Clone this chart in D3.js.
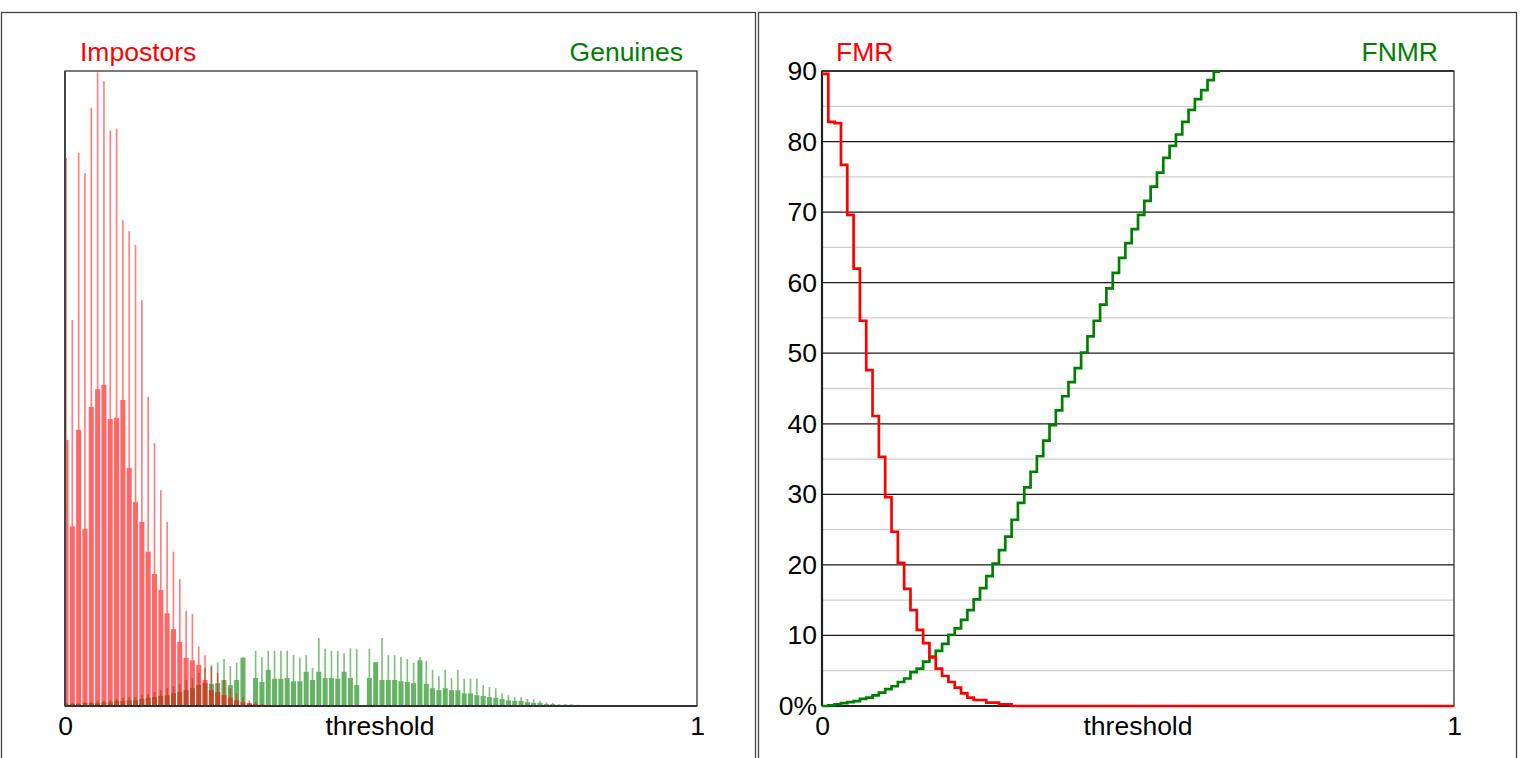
<!DOCTYPE html>
<html><head><meta charset="utf-8">
<script src="https://cdn.jsdelivr.net/npm/d3@7"></script>
<style>
html,body{margin:0;padding:0;background:#fff;}
svg{display:block;font-family:"Liberation Sans",Arial,sans-serif;}
</style></head>
<body>
<svg id="chart" width="1520" height="758"></svg>
<script>
// ---------- DATA ----------
const binWidth = 0.01;           // score bin width (threshold step)
// Impostor histogram, per 0.01 bin: tall thin peak and wide body (relative frequency, 0-100)
const impostorPeak = [86.3,60.8,87.1,83.9,94.2,99.8,98.4,90.6,90.9,76.5,
  74.8,72.6,63.9,48.7,41.4,34.0,29.0,24.3,20.0,15.0,
  14.5,9.4,8.0,6.1,5.2,4.1,2.8,2.0,1.4,0.9,
  0.6,0.3];
const impostorBody = [41.9,28.3,43.5,27.9,47.1,49.9,50.6,45.2,45.4,48.2,
  37.5,32.1,29.0,24.3,20.8,18.3,14.6,12.1,10.1,7.6,
  7.2,6.5,4.1,2.5,2.2,1.7,1.3,0.9,0.6,0.5,
  0.3,0.2];
// Genuine histogram
const genuinePeak = [0.5,0.5,0.5,0.6,0.6,0.8,0.8,0.9,1.1,1.3,
  1.4,1.4,1.7,1.9,2.2,2.5,2.8,3.1,3.5,4.1,
  4.4,5.2,6.0,6.5,6.9,7.4,6.3,6.8,7.7,0.5,
  8.7,7.7,8.7,8.7,8.7,8.7,8.0,7.6,8.0,6.0,
  10.7,9.0,8.7,8.7,8.3,9.1,9.0,0,9.0,6.6,
  10.7,8.0,8.0,7.7,7.4,6.8,7.7,7.1,5.7,4.7,
  5.7,4.4,5.7,4.3,4.3,4.3,3.3,3.0,2.8,2.0,
  1.7,1.4,1.4,1.1,1.1,0.8,0.6,0.5,0.3,0.3,
  0.3,0.2];
const genuineBody = [0.3,0.3,0.3,0.5,0.5,0.5,0.6,0.6,0.8,0.8,
  0.9,0.9,1.1,1.3,1.4,1.6,1.7,2.0,2.2,2.5,
  2.8,3.3,3.6,3.5,3.6,4.1,3.3,4.1,7.6,0.3,
  4.4,3.8,5.7,4.3,4.3,4.4,3.9,3.9,5.4,4.1,
  5.4,4.4,4.4,4.3,5.4,4.4,3.3,0,4.4,6.9,
  4.1,4.1,4.1,3.9,3.8,3.6,7.2,3.5,2.8,2.5,
  2.8,2.5,2.5,2.0,2.0,1.7,1.6,1.4,1.3,1.1,
  0.9,0.8,0.8,0.6,0.5,0.5,0.3,0.3,0.2,0.2,
  0.2,0.1];
// Error rates (%) at each threshold step
const fmrPct = [89.6,82.8,82.6,76.7,69.6,62.0,54.6,47.6,41.1,35.3,
  29.6,24.7,20.3,16.6,13.6,10.8,8.9,6.9,5.3,4.25,
  3.4,2.6,1.8,1.2,0.85,0.85,0.47,0.47,0.24,0.24,
  0];
const fnmrPct = [0,0.1,0.25,0.4,0.55,0.7,1.0,1.2,1.5,1.9,
  2.4,2.8,3.4,3.9,4.8,5.3,6.3,7.0,7.8,8.8,
  10.1,11.0,12.2,13.6,15.1,16.7,18.4,20.2,22.1,24.0,
  26.4,28.8,31.0,33.2,35.4,37.6,39.8,41.9,43.9,45.9,
  47.9,50.1,52.4,54.6,56.9,59.2,61.4,63.5,65.6,67.6,
  69.6,71.6,73.6,75.6,77.7,79.4,81.0,82.8,84.5,86.0,
  87.3,88.7,89.9];
const xTicks = [0, 1];
const rateTicks = [0,10,20,30,40,50,60,70,80,90];
const rateMinor = [5,15,25,35,45,55,65,75,85];
const labels = {imp:"Impostors", gen:"Genuines", fmr:"FMR", fnmr:"FNMR", x:"threshold"};

// ---------- LAYOUT ----------
const svg = d3.select("#chart");
const FONT = 26.5;
const FAM = "Liberation Sans, Arial, sans-serif";
const L = {x0:65, x1:697, y0:71, y1:706};
const R = {x0:822, x1:1454, y0:71, y1:706};
const xL = d3.scaleLinear().domain([0,1]).range([L.x0, L.x1]);
const yL = d3.scaleLinear().domain([0,100]).range([L.y1, L.y0]);
const xR = d3.scaleLinear().domain([0,1]).range([R.x0, R.x1]);
const yR = d3.scaleLinear().domain([0,90]).range([R.y1, R.y0]);

// outer panel frames
svg.append("rect").attr("x",1.5).attr("y",12.5).attr("width",754).attr("height",760)
  .attr("fill","none").attr("stroke","#444").attr("stroke-width",1.3);
svg.append("rect").attr("x",758.5).attr("y",12.5).attr("width",758).attr("height",760)
  .attr("fill","none").attr("stroke","#444").attr("stroke-width",1.3);

const defs = svg.append("defs");
defs.append("clipPath").attr("id","clipL").append("rect")
  .attr("x",L.x0).attr("y",L.y0).attr("width",L.x1-L.x0).attr("height",L.y1-L.y0);

// ---------- LEFT: histograms ----------
const gH = svg.append("g").attr("clip-path","url(#clipL)");
const center = i => i*binWidth + 0.0016;
const bodyHalf = 0.0040, peakHalf = 0.0013;

function drawHist(peaks, bodies, rgb){
  const data = bodies.map((b,i)=>({i, b, p:peaks[i]}));
  const g = gH.append("g");
  g.selectAll("rect.body").data(data).join("rect").attr("class","body")
    .attr("x", d=>xL(center(d.i)-bodyHalf))
    .attr("width", d=>xL(center(d.i)+bodyHalf)-xL(center(d.i)-bodyHalf))
    .attr("y", d=>yL(d.b)).attr("height", d=>yL(0)-yL(d.b))
    .attr("fill", `rgba(${rgb},0.6)`);
  g.selectAll("rect.peak").data(data.filter(d=>d.p>d.b)).join("rect").attr("class","peak")
    .attr("x", d=>xL(center(d.i)-peakHalf))
    .attr("width", d=>xL(center(d.i)+peakHalf)-xL(center(d.i)-peakHalf))
    .attr("y", d=>yL(d.p)).attr("height", d=>yL(d.b)-yL(d.p))
    .attr("fill", `rgba(${rgb},0.5)`);
}
drawHist(genuinePeak, genuineBody, "0,128,0");
drawHist(impostorPeak, impostorBody, "255,0,0");

// frame
svg.append("rect").attr("x",L.x0).attr("y",L.y0).attr("width",L.x1-L.x0).attr("height",L.y1-L.y0)
  .attr("fill","none").attr("stroke","#222").attr("stroke-width",1.2);
svg.append("line").attr("x1",L.x0).attr("x2",L.x1).attr("y1",yL(0)).attr("y2",yL(0))
  .attr("stroke","#333").attr("stroke-width",2.2);
svg.append("line").attr("x1",L.x0).attr("x2",L.x0).attr("y1",L.y0).attr("y2",L.y1)
  .attr("stroke","#444").attr("stroke-width",2);

function xAxis(scale, y){
  const g = svg.append("g").attr("transform",`translate(0,${y})`)
    .call(d3.axisBottom(scale).tickValues(xTicks).tickFormat(d3.format("d")).tickSize(0).tickPadding(10));
  g.select(".domain").remove();
  g.selectAll("text").attr("font-size",FONT).attr("fill","#000").attr("font-family",FAM);
}
xAxis(xL, L.y1);
svg.append("text").attr("x",(L.x0+L.x1)/2 - 1).attr("y",735).attr("text-anchor","middle")
  .attr("font-size",FONT).attr("fill","#000").text(labels.x);
svg.append("text").attr("x",80).attr("y",61).attr("font-size",FONT).attr("fill","#ff0000").text(labels.imp);
svg.append("text").attr("x",683).attr("y",61).attr("text-anchor","end").attr("font-size",FONT).attr("fill","#008000").text(labels.gen);

// ---------- RIGHT: FMR / FNMR ----------
svg.selectAll("line.minor").data(rateMinor).join("line").attr("class","minor")
  .attr("x1",R.x0).attr("x2",R.x1).attr("y1",d=>yR(d)).attr("y2",d=>yR(d))
  .attr("stroke","#cfcfcf").attr("stroke-width",1.3);
svg.selectAll("line.major").data(rateTicks.filter(d=>d>0)).join("line").attr("class","major")
  .attr("x1",R.x0).attr("x2",R.x1).attr("y1",d=>yR(d)).attr("y2",d=>yR(d))
  .attr("stroke","#1a1a1a").attr("stroke-width",1.3);
svg.append("rect").attr("x",R.x0).attr("y",R.y0).attr("width",R.x1-R.x0).attr("height",R.y1-R.y0)
  .attr("fill","none").attr("stroke","#222").attr("stroke-width",1.2);
svg.append("line").attr("x1",R.x0).attr("x2",R.x1).attr("y1",yR(0)).attr("y2",yR(0))
  .attr("stroke","#222").attr("stroke-width",2.2);
svg.append("line").attr("x1",R.x0).attr("x2",R.x0).attr("y1",R.y0).attr("y2",R.y1)
  .attr("stroke","#222").attr("stroke-width",2.2);

const yAx = svg.append("g").attr("transform",`translate(${R.x0},0)`)
  .call(d3.axisLeft(yR).tickValues(rateTicks).tickFormat(d=>d===0?"0%":String(d)).tickSize(0).tickPadding(5));
yAx.select(".domain").remove();
yAx.selectAll("text").attr("font-size",FONT).attr("fill","#000").attr("font-family",FAM);
xAxis(xR, R.y1);
svg.append("text").attr("x",(R.x0+R.x1)/2).attr("y",735).attr("text-anchor","middle")
  .attr("font-size",FONT).attr("fill","#000").text(labels.x);
svg.append("text").attr("x",836).attr("y",61).attr("font-size",FONT).attr("fill","#ff0000").text(labels.fmr);
svg.append("text").attr("x",1438).attr("y",61).attr("text-anchor","end").attr("font-size",FONT).attr("fill","#008000").text(labels.fnmr);

const stepLine = d3.line().x(d=>xR(d.t)).y(d=>yR(d.v)).curve(d3.curveStepAfter);
const fnmrPts = fnmrPct.map((v,i)=>({t:i*binWidth, v}));
fnmrPts.push({t:fnmrPct.length*binWidth, v:fnmrPct[fnmrPct.length-1]});
const fmrPts = fmrPct.map((v,i)=>({t:i*binWidth, v}));
fmrPts.push({t:1, v:fmrPct[fmrPct.length-1]});
svg.append("path").attr("d",stepLine(fnmrPts)).attr("fill","none").attr("stroke","#008000").attr("stroke-width",2.7);
svg.append("path").attr("d",stepLine(fmrPts)).attr("fill","none").attr("stroke","#ff0000").attr("stroke-width",2.7);
</script>
</body></html>
